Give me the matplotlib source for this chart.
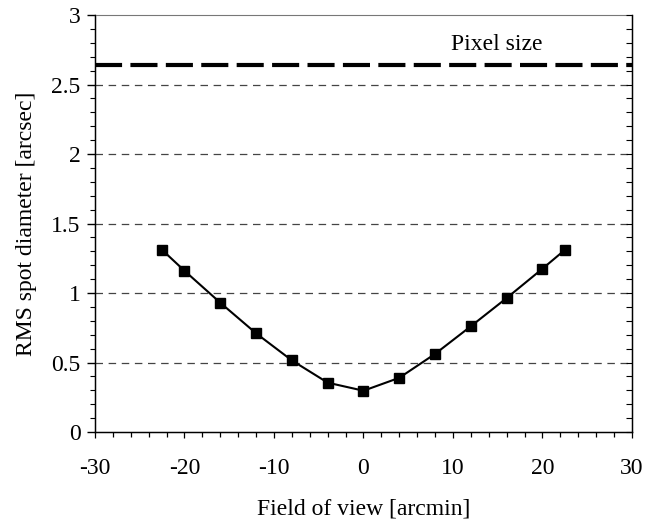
import matplotlib
matplotlib.use("Agg")
import matplotlib.pyplot as plt
from matplotlib.ticker import MultipleLocator

plt.rcParams['font.family'] = ['Liberation Serif', 'DejaVu Serif']
plt.rcParams['axes.unicode_minus'] = False

# field angle [arcmin] and RMS spot diameter [arcsec]
field = [-22.5, -20, -16, -12, -8, -4, 0, 4, 8, 12, 16, 20, 22.5]
rms = [1.31, 1.16, 0.93, 0.71, 0.515, 0.355, 0.297, 0.39, 0.562, 0.761, 0.964, 1.175, 1.31]

pixel_size = 2.64
grid_levels = [0.5, 1.0, 1.5, 2.0, 2.5]

fs = 17

fig = plt.figure(figsize=(6.56, 5.21), dpi=100)
ax = fig.add_axes([0.1448, 0.1708, 0.8186, 0.8004])

for g in grid_levels:
    ax.axhline(g, color='#444444', lw=0.9, dashes=(6, 4.5), zorder=1)

ax.axhline(pixel_size, color='black', lw=3, dashes=(6.5, 2), zorder=2)
ax.text(14.9, 2.79, 'Pixel size', ha='center', va='center', fontsize=fs)

ax.plot(field, rms, color='black', lw=1.5, marker='s', markersize=6.5, zorder=3)

ax.set_xlim(-30, 30)
ax.set_ylim(0, 3)
ax.xaxis.set_major_locator(MultipleLocator(10))
ax.xaxis.set_minor_locator(MultipleLocator(2))
ax.yaxis.set_major_locator(MultipleLocator(0.5))
ax.yaxis.set_minor_locator(MultipleLocator(0.1))
ax.yaxis.set_major_formatter(plt.FuncFormatter(lambda v, p: ('%g' % v)))

ax.tick_params(axis='y', which='major', direction='out', length=5.5, width=1,
               labelsize=fs, pad=5, right=False)
ax.tick_params(axis='y', which='minor', direction='out', length=3.6, width=0.8,
               right=False)
ax.tick_params(axis='x', which='major', direction='out', length=4.3, width=0.9,
               labelsize=fs, pad=14.5, top=False)
ax.tick_params(axis='x', which='minor', direction='out', length=3.6, width=0.9,
               top=False)

ax.spines['top'].set_color('#777777')
ax.spines['top'].set_linewidth(0.8)
for s in ['left', 'right', 'bottom']:
    ax.spines[s].set_linewidth(1.0)

# right side inward ticks
ax2 = ax.twinx()
ax2.set_ylim(0, 3)
ax2.yaxis.set_major_locator(MultipleLocator(0.5))
ax2.yaxis.set_minor_locator(MultipleLocator(0.1))
ax2.tick_params(axis='y', which='both', direction='in', length=4, width=0.8,
                labelright=False)
ax2.spines['top'].set_visible(False)

ax.set_xlabel('Field of view [arcmin]', fontsize=fs, labelpad=14)
ax.set_ylabel('RMS spot diameter [arcsec]', fontsize=fs, labelpad=10)

fig.savefig('out.png', dpi=100)
